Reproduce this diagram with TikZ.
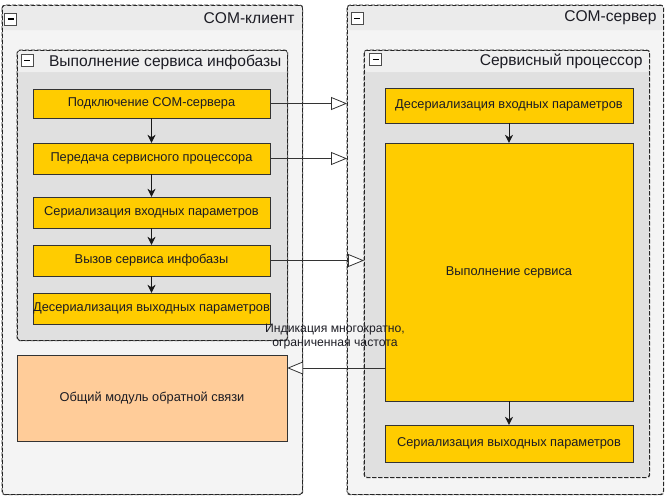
\documentclass[tikz,border=0pt]{standalone}
\usepackage{fontspec}
\setmainfont{Liberation Sans}
\usetikzlibrary{arrows.meta,positioning}
\definecolor{stepfill}{HTML}{FFCC00}
\definecolor{fbfill}{HTML}{FFCC99}
\definecolor{outerbody}{HTML}{F4F4F4}
\definecolor{outerhead}{HTML}{EBEBEB}
\definecolor{innerbody}{HTML}{E0E0E0}
\definecolor{innerhead}{HTML}{EFEFEF}
\definecolor{txt}{HTML}{1C1C24}
\tikzset{
  group/.style={draw=black!85, dash pattern=on 4pt off 2pt, rounded corners=3pt,
    anchor=north west, inner sep=0pt, line width=0.8pt},
  stepbox/.style={draw=black!80, fill=stepfill, inner sep=0pt, text=txt,
    font=\fontsize{12.8}{15}\selectfont},
  minusbox/.style={draw=black!70, fill=white, minimum size=12pt, inner sep=0pt,
    path picture={\draw[black, line width=1.2pt] ([xshift=3pt]path picture bounding box.west)
      -- ([xshift=-3pt]path picture bounding box.east);}},
  title/.style={anchor=east, text=txt, font=\fontsize{15.6}{17}\selectfont},
  flow/.style={draw=black!90, -{Stealth[length=8pt,width=8pt]}},
  call/.style={draw=black!80, line width=0.8pt, -{Triangle[open,length=16pt,width=13pt,fill=white]}}
}
\begin{document}
\begin{tikzpicture}[x=1pt,y=-1pt]
\useasboundingbox (0,0) rectangle (665,498);
% COM-client side
\node[group, fill=outerbody, minimum width=300pt, minimum height=489pt] (cli) at (2,5) {};
\fill[outerhead, rounded corners=2pt] ([xshift=1pt,yshift=-1pt]cli.north west) rectangle ([xshift=-1pt,yshift=-25pt]cli.north east);
\draw[group, fill=none] (cli.north west) rectangle (cli.south east);
\node[minusbox] (climinus) at (10.5,19) {};
\node[title] (clititle) at (298,18) {COM-клиент};
\node[group, fill=innerbody, minimum width=270pt, minimum height=290pt] (run) at (17,50) {};
\fill[innerhead, rounded corners=2pt] ([xshift=1pt,yshift=-1pt]run.north west) rectangle ([xshift=-1pt,yshift=-22pt]run.north east);
\draw[group, fill=none] (run.north west) rectangle (run.south east);
\node[minusbox] (runminus) at (27,60.5) {};
\node[title] (runtitle) at (285,62) {Выполнение сервиса инфобазы};
\node[stepbox, minimum width=237pt, minimum height=29pt] (connect) at (151.5,103.5) {Подключение COM-сервера};
\node[stepbox, minimum width=237pt, minimum height=31pt] (pass) at (151.5,158.5) {Передача сервисного процессора};
\node[stepbox, minimum width=237pt, minimum height=31pt] (serin) at (151.5,212.5) {Сериализация входных параметров};
\node[stepbox, minimum width=237pt, minimum height=31pt] (invoke) at (151.5,260.5) {Вызов сервиса инфобазы};
\node[stepbox, minimum width=237pt, minimum height=31pt] (deserout) at (151.5,308.5) {Десериализация выходных параметров};
\node[stepbox, fill=fbfill, minimum width=270pt, minimum height=86pt] (feedback) at (152,398) {Общий модуль обратной связи};
% COM-server side
\node[group, fill=outerbody, minimum width=316pt, minimum height=489pt] (srv) at (347,5) {};
\fill[outerhead, rounded corners=2pt] ([xshift=1pt,yshift=-1pt]srv.north west) rectangle ([xshift=-1pt,yshift=-25pt]srv.north east);
\draw[group, fill=none] (srv.north west) rectangle (srv.south east);
\node[minusbox] (srvminus) at (357,18.5) {};
\node[title] (srvtitle) at (660,18) {COM-сервер};
\node[group, fill=innerbody, minimum width=285pt, minimum height=427pt] (proc) at (364,50) {};
\fill[innerhead, rounded corners=2pt] ([xshift=1pt,yshift=-1pt]proc.north west) rectangle ([xshift=-1pt,yshift=-22pt]proc.north east);
\draw[group, fill=none] (proc.north west) rectangle (proc.south east);
\node[minusbox] (procminus) at (375.5,59.5) {};
\node[title] (proctitle) at (646,61) {Сервисный процессор};
\node[stepbox, minimum width=248pt, minimum height=35pt] (deserin) at (509,105.5) {Десериализация входных параметров};
\node[stepbox, minimum width=248pt, minimum height=258pt] (exec) at (509,272) {Выполнение сервиса};
\node[stepbox, minimum width=248pt, minimum height=37pt] (serout) at (509,443.5) {Сериализация выходных параметров};
% flow
\draw[flow] (connect) -- (pass);
\draw[flow] (pass) -- (serin);
\draw[flow] (serin) -- (invoke);
\draw[flow] (invoke) -- (deserout);
\draw[flow] (deserin) -- (exec);
\draw[flow] (exec) -- (serout);
\draw[call] (connect.east) -- (connect.east -| srv.west);
\draw[call] (pass.east) -- (pass.east -| srv.west);
\draw[call] (invoke.east) -- (invoke.east -| proc.west);
\coordinate (fbout) at (exec.west |- 0,368);
\draw[call] (fbout) -- (fbout -| feedback.east);
\node[align=center, text=txt, font=\fontsize{12.2}{14}\selectfont] (fblabel) at (335,337) {Индикация многократно,\\ограниченная частота};
\end{tikzpicture}
\end{document}
